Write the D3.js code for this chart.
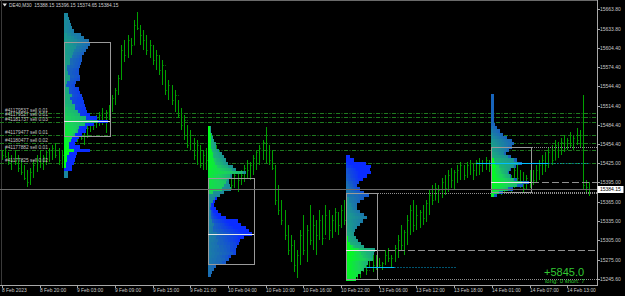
<!DOCTYPE html>
<html>
<head>
<meta charset="utf-8">
<script src="https://cdn.jsdelivr.net/npm/d3@7"></script>
<style>
html, body { margin: 0; padding: 0; background: #000; }
svg { display: block; }
text { font-family: "Liberation Sans", Arial, sans-serif; }
</style>
</head>
<body>
<svg width="625" height="296"></svg>
<script>
// DE40 M30 bars, 8 Feb 14:00 -> 14 Feb 13:30
var barHigh = [15445,15448,15442,15438,15445,15438,15430,15422,15414,15417,
  15430,15438,15445,15438,15445,15448,15453,15456,15448,15445,
  15445,15453,15461,15464,15476,15480,15473,15484,15492,15495,
  15500,15504,15511,15507,15515,15531,15542,15562,15608,15616,
  15624,15619,15647,15660,15639,15632,15624,15616,15608,15601,
  15593,15585,15570,15554,15546,15539,15523,15511,15500,15484,
  15476,15464,15461,15453,15445,15448,15481,15469,15453,15445,
  15438,15430,15422,15414,15417,15411,15414,15422,15430,15427,
  15438,15445,15453,15461,15481,15453,15445,15422,15391,15368,
  15352,15329,15313,15306,15290,15321,15345,15329,15360,15345,
  15337,15352,15345,15360,15352,15345,15355,15349,15360,15368,
  15313,15298,15290,15282,15278,15290,15282,15293,15287,15282,
  15278,15272,15290,15293,15282,15298,15313,15329,15321,15345,
  15360,15368,15360,15352,15360,15368,15383,15391,15394,15391,
  15402,15407,15414,15417,15414,15422,15427,15422,15427,15430,
  15425,15430,15433,15430,15434,15430,15430,15422,15414,15407,
  15402,15411,15407,15417,15422,15414,15411,15407,15414,15414,
  15422,15430,15438,15442,15448,15453,15461,15458,15464,15469,
  15464,15473,15469,15480,15476,15531,15399,15396.15];
var barLow = [15430,15433,15422,15414,15422,15411,15407,15399,15388,15391,
  15402,15411,15417,15414,15422,15427,15430,15433,15422,15417,
  15422,15430,15438,15445,15458,15461,15453,15464,15473,15476,
  15480,15483,15484,15472,15492,15504,15515,15531,15554,15582,
  15588,15593,15608,15632,15608,15601,15593,15588,15577,15570,
  15562,15546,15531,15523,15515,15504,15495,15476,15461,15448,
  15445,15430,15422,15417,15414,15414,15445,15438,15422,15414,
  15407,15399,15391,15383,15386,15380,15391,15396,15402,15399,
  15407,15414,15422,15430,15425,15422,15414,15360,15345,15329,
  15306,15282,15272,15256,15247,15267,15282,15272,15298,15290,
  15282,15306,15298,15313,15306,15309,15318,15313,15324,15329,
  15275,15262,15251,15244,15247,15256,15251,15262,15256,15259,
  15262,15259,15267,15272,15262,15272,15278,15290,15282,15298,
  15313,15318,15321,15324,15329,15334,15345,15360,15368,15363,
  15371,15376,15380,15386,15383,15394,15399,15399,15402,15407,
  15399,15405,15407,15411,15414,15411,15402,15391,15383,15376,
  15380,15383,15380,15386,15394,15386,15380,15383,15386,15391,
  15396,15399,15407,15411,15417,15422,15430,15433,15438,15442,
  15445,15448,15445,15453,15448,15383,15380,15374.65];
var barClose = [15438,15436,15427,15430,15425,15417,15411,15402,15396,15411,
  15422,15430,15425,15434,15442,15445,15448,15438,15430,15438,
  15442,15450,15458,15461,15472,15464,15469,15480,15489,15484,
  15495,15500,15492,15504,15511,15526,15539,15557,15601,15593,
  15616,15608,15639,15635,15624,15616,15601,15608,15585,15593,
  15570,15577,15539,15546,15523,15531,15500,15484,15492,15453,
  15469,15438,15453,15422,15438,15430,15469,15445,15438,15422,
  15430,15407,15414,15391,15407,15399,15407,15417,15414,15422,
  15433,15442,15448,15458,15445,15430,15417,15368,15352,15337,
  15313,15290,15298,15267,15282,15313,15290,15321,15306,15329,
  15313,15337,15309,15345,15321,15337,15349,15329,15352,15337,
  15290,15275,15259,15272,15267,15282,15259,15287,15267,15272,
  15267,15270,15282,15278,15278,15293,15306,15298,15318,15337,
  15352,15329,15345,15349,15340,15363,15376,15368,15386,15383,
  15396,15386,15407,15399,15411,15414,15422,15407,15422,15425,
  15414,15427,15422,15425,15430,15422,15414,15402,15391,15399,
  15386,15407,15391,15414,15402,15396,15386,15402,15407,15399,
  15414,15422,15430,15422,15442,15430,15453,15445,15458,15448,
  15461,15453,15464,15461,15469,15391,15388.15,15384.15];

var timeTickBars = [0,12,24,36,48,60,72,84,96,108,120,132,144,156,168,180];
var timeLabels = ["8 Feb 2023","8 Feb 20:00","9 Feb 03:00","9 Feb 09:00","9 Feb 15:00",
  "9 Feb 21:00","10 Feb 04:00","10 Feb 10:00","10 Feb 16:00","10 Feb 22:00",
  "13 Feb 06:00","13 Feb 12:00","13 Feb 18:00","14 Feb 01:00","14 Feb 07:00","14 Feb 13:00"];
var priceTicks = [15663.80,15633.80,15604.40,15574.40,15544.40,15514.40,15484.40,15454.40,
  15425.00,15395.00,15365.00,15335.00,15305.00,15275.00,15245.60];

// open sell orders
var orderTickets = ["#41179537","#41179527","#41181737","#41179477","#41180477","#41177882","#41177825"];
var orderPrices = [15503,15496,15489,15468,15456,15445,15425];
var orderLots = [0.01,0.01,0.03,0.01,0.02,0.01,0.02];

// daily volume profiles (tick volume per 5-point row)
var sessionStart = [20,66,110,156];
var sessionEnd = [65,109,155,187];
var profileBase = [15405,15250,15245,15375];
var profileStep = 5;
var profileVol1 = [40,40,80,80,100,110,120,130,260,160,110,130,150,180,220,230,300,440,330,260,
  230,220,210,200,190,180,160,150,110,120,160,160,150,150,160,170,180,180,200,220,
  240,260,250,200,170,100,80,70,60,50,40];
var profileVol2 = [30,40,60,80,180,210,230,280,280,290,310,320,360,440,410,380,330,300,180,130,
  100,80,60,70,90,120,160,230,220,210,210,240,380,280,250,200,180,160,140,110,
  80,80,60,50,40,30,30];
var profileVol3 = [100,120,150,180,200,220,270,270,280,290,180,150,120,100,80,90,110,140,170,210,
  180,140,110,110,140,180,230,180,140,110,130,170,210,250,240,250,200,80,40];
var profileVol4 = [60,120,220,320,380,260,200,180,200,250,310,260,200,150,180,210,230,210,160,120,
  90,60,40,30,30,30,30,30,30,30,30,30];
var profileVols = [profileVol1, profileVol2, profileVol3, profileVol4];
var vaHigh = [15613,15402,15379,15450];
var vaLow = [15467,15268,15245,15380];
var extendLevels = [false,false,true,true];

var cyanPrice = [15264,15425];
var cyanFrom = [116,151];
var cyanSolidTo = [125,174];
var cyanTo = [145,187];

var symbol = "DE40,M30";
var lastOHLC = [15388.15,15396.15,15374.65,15384.15];
var profitText = "+5845.0";
var longCount = 0, shortCount = 7;

var svg = d3.select("svg"),
    width = +svg.attr("width"),
    height = +svg.attr("height");

var plotRight = 597, plotBottom = 285;

var x = d3.scaleLinear().domain([0, 187]).range([2, 589.2]);
var y = d3.scaleLinear().domain([15245.6, 15663.8]).range([278.7, 9.3]);
var volX = d3.scaleLinear().domain([0, 10]).range([0, 1]);

// green (early in the day) -> blue (late)
var timeColor = d3.scaleLinear()
    .domain([0, 0.2, 0.42, 0.62, 0.85])
    .range(["#00ff1a", "#1ad25a", "#1a9c8c", "#1a6cb4", "#0a2cff"])
    .interpolate(d3.interpolateRgb)
    .clamp(true);

svg.append("rect").attr("width", width).attr("height", height).attr("fill", "#000");

function px(v) { return Math.round(v) + 0.5; }

// borders
svg.append("line").attr("x1", 0).attr("x2", plotRight).attr("y1", 0.5).attr("y2", 0.5)
    .attr("stroke", "#6a6a6a");
svg.append("line").attr("x1", 1.5).attr("x2", 1.5).attr("y1", 0).attr("y2", plotBottom)
    .attr("stroke", "#3a3a3a");

// order lines
var orders = svg.append("g").attr("class", "orders");
orderPrices.forEach(function(p, i) {
  orders.append("line")
      .attr("x1", 0).attr("x2", plotRight)
      .attr("y1", px(y(p))).attr("y2", px(y(p)))
      .attr("stroke", "#1f7a1f")
      .attr("stroke-dasharray", "4,1.5,1,1.5");
});

// OHLC bars
var bars = svg.append("g").attr("class", "bars")
    .attr("stroke-width", 1).attr("fill", "none")
    .attr("shape-rendering", "crispEdges");
barHigh.forEach(function(h, i) {
  var xi = px(x(i));
  var open = i > 0 ? barClose[i - 1] : barClose[i];
  bars.append("path").attr("stroke", "#005c00").attr("d",
      "M" + (xi - 1) + "," + px(y(open)) + "H" + xi +
      "M" + xi + "," + px(y(barClose[i])) + "H" + (xi + 1));
  bars.append("path").attr("stroke", "#00a000").attr("d",
      "M" + xi + "," + y(h) + "V" + y(barLow[i]));
});

// volume profiles
var profiles = svg.append("g").attr("class", "profiles");
profileVols.forEach(function(vols, s) {
  var x0 = Math.round(x(sessionStart[s])) - 1;
  var g = profiles.append("g");
  var maxVol = d3.max(vols);
  var pocIndex = vols.indexOf(maxVol);
  vols.forEach(function(v, k) {
    var p = profileBase[s] + k * profileStep;
    var top = Math.round(y(p + profileStep / 2)),
        bottom = Math.round(y(p - profileStep / 2));
    var len = volX(v);
    var hits = d3.range(sessionStart[s], sessionEnd[s] + 1).filter(function(i) {
      return barLow[i] <= p + profileStep / 2 && barHigh[i] >= p - profileStep / 2;
    });
    if (hits.length === 0) hits = [Math.round((sessionStart[s] + sessionEnd[s]) / 2)];
    hits.forEach(function(i, j) {
      var a = x0 + Math.round(len * j / hits.length),
          b = x0 + Math.round(len * (j + 1) / hits.length);
      if (b <= a) return;
      g.append("rect")
          .attr("x", a).attr("y", top)
          .attr("width", b - a).attr("height", Math.max(1, bottom - top))
          .attr("fill", timeColor((i - sessionStart[s]) / 45));
    });
  });

  var boxRight = x0 + Math.round(volX(maxVol)) + 2;
  var pocY = px(y(profileBase[s] + pocIndex * profileStep));
  g.append("rect")
      .attr("x", x0 + 0.5).attr("y", px(y(vaHigh[s])))
      .attr("width", boxRight - x0).attr("height", Math.round(y(vaLow[s]) - y(vaHigh[s])))
      .attr("fill", "none").attr("stroke", "#9a9a9a");
  g.append("line")
      .attr("x1", x0).attr("x2", boxRight)
      .attr("y1", pocY).attr("y2", pocY)
      .attr("stroke", "#e8e8e8");

  if (extendLevels[s]) {
    [vaHigh[s], vaLow[s]].forEach(function(p) {
      g.append("line")
          .attr("x1", boxRight + 1).attr("x2", plotRight)
          .attr("y1", px(y(p))).attr("y2", px(y(p)))
          .attr("stroke", "#909090").attr("stroke-dasharray", "1,1");
    });
    g.append("line")
        .attr("x1", boxRight + 1).attr("x2", plotRight)
        .attr("y1", pocY).attr("y2", pocY)
        .attr("stroke", "#909090").attr("stroke-dasharray", "7,3");
  }
});

// cyan levels
cyanPrice.forEach(function(p, i) {
  var yy = px(y(p));
  svg.append("line")
      .attr("x1", x(cyanFrom[i])).attr("x2", x(cyanSolidTo[i]))
      .attr("y1", yy).attr("y2", yy)
      .attr("stroke", "#00bfff");
  svg.append("line")
      .attr("x1", x(cyanSolidTo[i])).attr("x2", x(cyanTo[i]))
      .attr("y1", yy).attr("y2", yy)
      .attr("stroke", "#00a8e0").attr("stroke-dasharray", "1,2");
});

// bid line
var bidY = px(y(lastOHLC[3]));
svg.append("line")
    .attr("x1", 0).attr("x2", plotRight)
    .attr("y1", bidY).attr("y2", bidY)
    .attr("stroke", "#6e6e6e");

// order labels
orderPrices.forEach(function(p, i) {
  svg.append("text")
      .attr("x", 5).attr("y", y(p) - 1)
      .attr("font-size", 4.8).attr("fill", "#c4c4c4")
      .text(orderTickets[i] + " sell " + orderLots[i].toFixed(2));
});

// price axis
svg.append("line").attr("x1", plotRight + 0.5).attr("x2", plotRight + 0.5)
    .attr("y1", 0).attr("y2", plotBottom + 1).attr("stroke", "#a8a8a8");
var yAxis = svg.append("g");
priceTicks.forEach(function(p) {
  var yy = px(y(p));
  yAxis.append("line").attr("x1", plotRight).attr("x2", plotRight + 3)
      .attr("y1", yy).attr("y2", yy).attr("stroke", "#a8a8a8");
  yAxis.append("text").attr("x", 600).attr("y", yy + 1.8)
      .attr("font-size", 5).attr("fill", "#c8c8c8")
      .text(p.toFixed(2));
});
svg.append("rect").attr("x", plotRight + 0.5).attr("y", bidY - 3.5)
    .attr("width", 26).attr("height", 7).attr("fill", "#ffffff");
svg.append("text").attr("x", 600).attr("y", bidY + 1.8)
    .attr("font-size", 5).attr("fill", "#000")
    .text(lastOHLC[3].toFixed(2));

// time axis
svg.append("line").attr("x1", 0).attr("x2", plotRight + 1)
    .attr("y1", plotBottom + 0.5).attr("y2", plotBottom + 0.5).attr("stroke", "#a8a8a8");
timeTickBars.forEach(function(b, i) {
  var xx = px(x(b));
  svg.append("line").attr("x1", xx).attr("x2", xx)
      .attr("y1", plotBottom).attr("y2", plotBottom + 3).attr("stroke", "#a8a8a8");
  svg.append("text").attr("x", xx - 0.5).attr("y", 291.8)
      .attr("font-size", 4.9).attr("fill", "#c8c8c8")
      .text(timeLabels[i]);
});

// title
svg.append("path").attr("d", "M2.5,3.5H7L4.75,6.5Z").attr("fill", "#e0e0e0");
svg.append("text").attr("x", 9).attr("y", 7)
    .attr("font-size", 4.8).attr("fill", "#d0d0d0")
    .attr("xml:space", "preserve")
    .text(symbol + "  " + lastOHLC.map(function(v) { return v.toFixed(2); }).join(" "));

// account summary
svg.append("text").attr("x", 544).attr("y", 275.5)
    .attr("font-size", 11).attr("fill", "#32c832")
    .text(profitText);
svg.append("text").attr("x", 545).attr("y", 282.8)
    .attr("font-size", 6).attr("fill", "#32c832")
    .text("long: " + longCount + " short: " + shortCount);
</script>
</body>
</html>
